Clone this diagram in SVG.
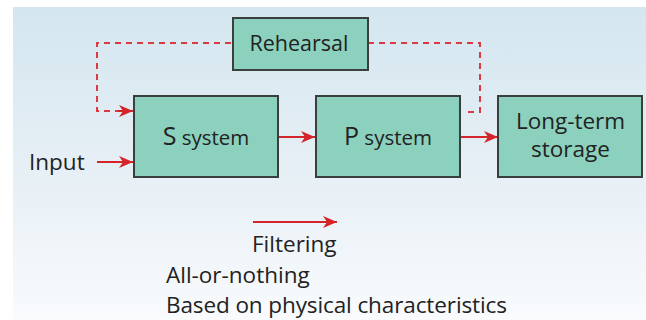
<svg xmlns="http://www.w3.org/2000/svg" width="646" height="320" viewBox="0 0 646 320">
  <defs>
    <linearGradient id="bg" x1="0" y1="0" x2="0" y2="1">
      <stop offset="0" stop-color="#d4e6ef"/>
      <stop offset="0.6" stop-color="#e9f1f6"/>
      <stop offset="1" stop-color="#f9fbfd"/>
    </linearGradient>
    <marker id="arr" viewBox="0 0 14 12" refX="14" refY="6" markerWidth="14" markerHeight="12" markerUnits="userSpaceOnUse" orient="auto">
      <path d="M0,0 L14,6 L0,12 L4,6 Z" fill="#d4252b"/>
    </marker>
    <style>
      .box { fill: #8bd1bd; stroke: #3a3f3d; stroke-width: 2; }
      .lbl { font-family: "Open Sans", "Liberation Sans", sans-serif; fill: #222; }
      .conn { stroke: #d4252b; stroke-width: 2; fill: none; }
      .dash { stroke: #db3a40; stroke-width: 2; fill: none; stroke-dasharray: 6 5; }
    </style>
  </defs>

  <rect x="13" y="7" width="633" height="313" fill="url(#bg)"/>

  <g id="connectors">
    <path class="dash" d="M231,43 H97 V111 H118"/>
    <path class="conn" d="M118,111 H133" marker-end="url(#arr)"/>
    <path class="dash" d="M368,43 H480 V112 H464"/>
    <path class="conn" d="M97,162 H133" marker-end="url(#arr)"/>
    <path class="conn" d="M278,137 H315" marker-end="url(#arr)"/>
    <path class="conn" d="M461,137 H498" marker-end="url(#arr)"/>
    <path class="conn" d="M253,222 H337" marker-end="url(#arr)"/>
  </g>

  <g id="rehearsal">
    <rect class="box" x="233" y="18" width="135" height="52"/>
    <text class="lbl" x="299" y="51" font-size="21.5" text-anchor="middle">Rehearsal</text>
  </g>

  <g id="s-system">
    <rect class="box" x="134" y="96" width="144" height="81"/>
    <text class="lbl" x="206" y="145" text-anchor="middle"><tspan font-size="25">S</tspan><tspan font-size="20.5"> system</tspan></text>
  </g>

  <g id="p-system">
    <rect class="box" x="316" y="96" width="144" height="81"/>
    <text class="lbl" x="388" y="145" text-anchor="middle"><tspan font-size="25">P</tspan><tspan font-size="20.5"> system</tspan></text>
  </g>

  <g id="long-term">
    <rect class="box" x="498" y="96" width="144" height="81"/>
    <text class="lbl" x="570.5" y="129" font-size="22.5" text-anchor="middle">Long-term</text>
    <text class="lbl" x="570.5" y="157" font-size="22.5" text-anchor="middle">storage</text>
  </g>

  <g id="input">
    <text class="lbl" x="29" y="170" font-size="22.5">Input</text>
  </g>

  <g id="legend">
    <text class="lbl" x="252" y="252" font-size="22.5">Filtering</text>
    <text class="lbl" x="166" y="283" font-size="22.5">All-or-nothing</text>
    <text class="lbl" x="166" y="313" font-size="22.5" textLength="341" lengthAdjust="spacing">Based on physical characteristics</text>
  </g>
</svg>
